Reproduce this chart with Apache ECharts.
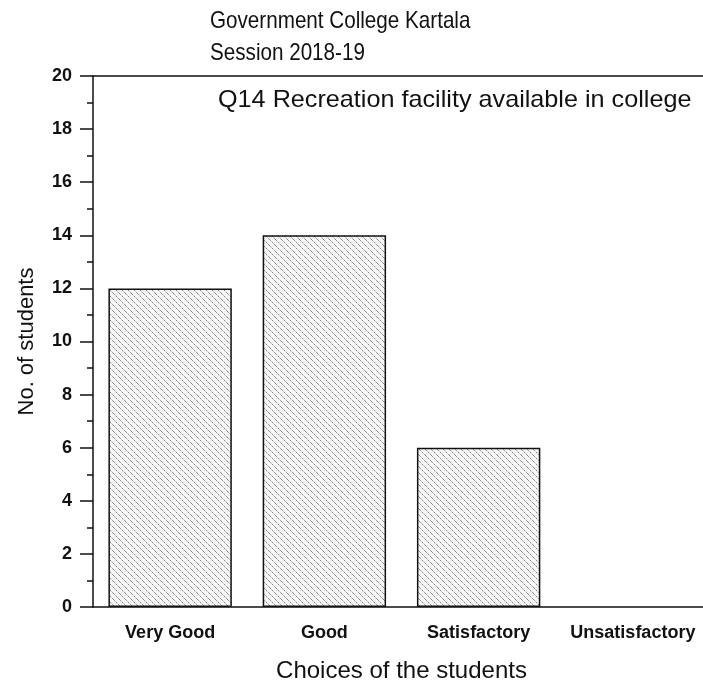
<!DOCTYPE html>
<html><head><meta charset="utf-8">
<script src="https://cdn.jsdelivr.net/npm/echarts@6/dist/echarts.min.js"></script>
<style>html,body{margin:0;padding:0;background:#fff}#c{width:703px;height:688px}</style>
</head><body><div id="c"></div>
<script>
const categories = ['Very Good', 'Good', 'Satisfactory', 'Unsatisfactory'];
const students = [12, 14, 6, 0];
const titleLines = ['Government College Kartala', 'Session 2018-19'];
const innerLabel = 'Q14 Recreation facility available in college';

const pat = document.createElement('canvas');
pat.width = 6; pat.height = 6;
const g = pat.getContext('2d');
g.fillStyle = '#f6f6f6'; g.fillRect(0,0,6,6);
g.strokeStyle = '#777'; g.lineWidth = 0.9;
g.setLineDash([2.5, 1.2]);
g.beginPath(); g.moveTo(-1,-1); g.lineTo(7,7); g.stroke();
g.beginPath(); g.moveTo(-1,5); g.lineTo(1,7); g.stroke();
g.beginPath(); g.moveTo(5,-1); g.lineTo(7,1); g.stroke();

const FONT = 'Liberation Sans';
const chart = echarts.init(document.getElementById('c'));
chart.setOption({
  animation: false,
  textStyle: {fontFamily: FONT},
  grid: {left: 93, width: 617, top: 76, bottom: 81, outerBoundsMode: 'none', containLabel: false},
  graphic: [
    {type: 'text', x: 210, y: 5, scaleX: 0.86, style: {text: titleLines.join('\n'), font: '24px ' + FONT, fill: '#111', lineHeight: 32}},
    {type: 'text', x: 218, y: 88, scaleX: 1.05, style: {text: innerLabel, font: '24px ' + FONT, fill: '#111'}}
  ],
  xAxis: [
    {type: 'category', data: categories, position: 'bottom',
     axisLine: {lineStyle: {color: '#111', width: 1.5}},
     axisTick: {alignWithLabel: true, interval: 0, length: 10, lineStyle: {color: '#111', width: 1.5}},
     axisLabel: {interval: 0, color: '#111', fontSize: 18, fontWeight: 'bold', margin: 17, fontFamily: FONT},
     name: 'Choices of the students', nameLocation: 'middle', nameGap: 52,
     nameTextStyle: {fontSize: 24, color: '#111', fontFamily: FONT}},
    {type: 'category', data: categories, position: 'bottom',
     axisLine: {show: false}, axisLabel: {show: false},
     axisTick: {interval: 0, length: 6, lineStyle: {color: '#111', width: 1.5}}},
    {type: 'category', data: categories, position: 'top',
     axisLine: {lineStyle: {color: '#111', width: 1.5}}, axisLabel: {show: false}, axisTick: {show: false}}
  ],
  yAxis: {type: 'value', min: 0, max: 20, interval: 2,
    axisLine: {show: true, lineStyle: {color: '#111', width: 1.5}},
    axisTick: {show: true, length: 13, lineStyle: {color: '#111', width: 1.5}},
    minorTick: {show: true, splitNumber: 2, length: 6, lineStyle: {color: '#111', width: 1.5}},
    splitLine: {show: false},
    axisLabel: {color: '#111', fontSize: 18, fontWeight: 'bold', margin: 21, fontFamily: FONT},
    name: 'No. of students', nameLocation: 'middle', nameGap: 55,
    nameTextStyle: {fontSize: 22, color: '#111', fontFamily: FONT}},
  series: [{type: 'bar', barWidth: '80%',
    data: students.map(v => ({value: v, itemStyle: v === 0 ? {borderWidth: 0, opacity: 0} : {}})),
    itemStyle: {color: {image: pat, repeat: 'repeat'}, borderColor: '#111', borderWidth: 1.5}}]
});
</script></body></html>
